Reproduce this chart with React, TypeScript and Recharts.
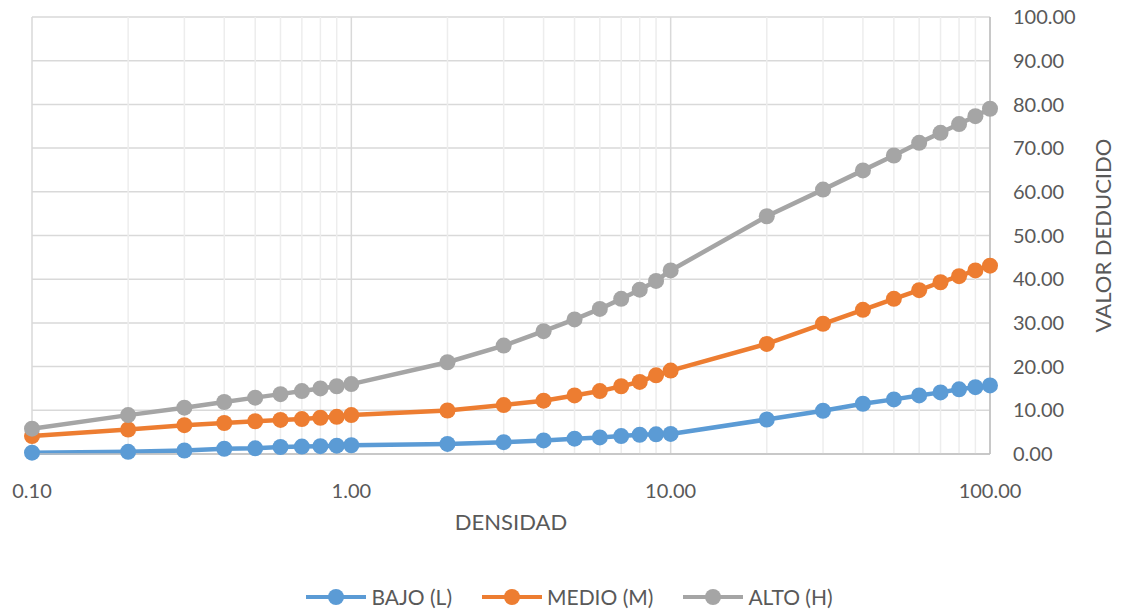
import {
  LineChart,
  Line,
  XAxis,
  YAxis,
  CartesianGrid,
  ReferenceLine,
  Legend,
} from "recharts";

const DENSIDAD = [
  0.1, 0.2, 0.3, 0.4, 0.5, 0.6, 0.7, 0.8, 0.9, 1, 2, 3, 4, 5, 6, 7, 8, 9, 10,
  20, 30, 40, 50, 60, 70, 80, 90, 100,
];

const BAJO = [
  0.3, 0.5, 0.8, 1.2, 1.3, 1.6, 1.7, 1.8, 1.9, 2.0, 2.3, 2.7, 3.1, 3.5, 3.8,
  4.1, 4.4, 4.5, 4.6, 7.9, 9.9, 11.5, 12.5, 13.4, 14.1, 14.8, 15.3, 15.7,
];

const MEDIO = [
  4.1, 5.6, 6.6, 7.1, 7.5, 7.8, 8.0, 8.3, 8.5, 8.9, 9.95, 11.2, 12.2, 13.4,
  14.4, 15.5, 16.5, 18.0, 19.1, 25.2, 29.8, 33.0, 35.5, 37.5, 39.3, 40.7, 42.0,
  43.1,
];

const ALTO = [
  5.8, 8.9, 10.6, 11.9, 12.9, 13.7, 14.4, 15.0, 15.5, 16.0, 21.0, 24.8, 28.1,
  30.8, 33.2, 35.5, 37.6, 39.6, 42.0, 54.4, 60.5, 64.9, 68.3, 71.2, 73.5, 75.5,
  77.3, 79.0,
];

const X_TICKS = [0.1, 1, 10, 100];
const X_MINOR = [
  0.2, 0.3, 0.4, 0.5, 0.6, 0.7, 0.8, 0.9, 2, 3, 4, 5, 6, 7, 8, 9, 20, 30, 40,
  50, 60, 70, 80, 90,
];
const Y_TICKS = [0, 10, 20, 30, 40, 50, 60, 70, 80, 90, 100];

const SERIES = [
  { key: "bajo", name: "BAJO (L)", color: "#5B9BD5" },
  { key: "medio", name: "MEDIO (M)", color: "#ED7D31" },
  { key: "alto", name: "ALTO (H)", color: "#A5A5A5" },
];

const data = DENSIDAD.map((d, i) => ({
  x: d,
  bajo: BAJO[i],
  medio: MEDIO[i],
  alto: ALTO[i],
}));

const FONT = "Lato, 'Open Sans', sans-serif";
const TEXT = "#595959";

// leyenda con línea + círculo como en Excel
const renderLegend = () => (
  <div
    style={{
      display: "flex",
      justifyContent: "center",
      gap: 30,
      paddingRight: 16,
    }}
  >
    {SERIES.map((s) => (
      <div key={s.key} style={{ display: "flex", alignItems: "center" }}>
        <svg width={60} height={20}>
          <line x1={0} y1={10} x2={60} y2={10} stroke={s.color} strokeWidth={4} />
          <circle cx={30} cy={10} r={8} fill={s.color} />
        </svg>
        <span
          style={{
            fontFamily: FONT,
            fontSize: 21,
            color: TEXT,
            marginLeft: 5,
          }}
        >
          {s.name}
        </span>
      </div>
    ))}
  </div>
);

export default function App() {
  return (
    <div style={{ width: 1123, height: 615, background: "#fff" }}>
      <style>{`body{margin:0}`}</style>
      <LineChart
        width={1123}
        height={615}
        data={data}
        margin={{ top: 17, right: 0, left: 32, bottom: 1 }}
      >
        <CartesianGrid stroke="#D9D9D9" strokeWidth={1.5} />
        {X_MINOR.map((v) => (
          <ReferenceLine key={v} x={v} stroke="#EDEDED" strokeWidth={1.5} />
        ))}
        <XAxis
          dataKey="x"
          type="number"
          scale="log"
          domain={[0.1, 100]}
          ticks={X_TICKS}
          height={130}
          tickLine={false}
          axisLine={{ stroke: "#BFBFBF", strokeWidth: 1.5 }}
          tickMargin={24}
          tickFormatter={(v: number) => v.toFixed(2)}
          tick={{ fill: TEXT, fontSize: 20, fontFamily: FONT }}
          label={{
            value: "DENSIDAD",
            position: "insideBottom",
            offset: 54,
            fill: TEXT,
            fontSize: 22,
            fontFamily: FONT,
          }}
        />
        <YAxis
          orientation="right"
          type="number"
          domain={[0, 100]}
          ticks={Y_TICKS}
          width={133}
          tickLine={false}
          axisLine={{ stroke: "#BFBFBF", strokeWidth: 1.5 }}
          tickMargin={17}
          tickFormatter={(v: number) => v.toFixed(2)}
          tick={{ fill: TEXT, fontSize: 20, fontFamily: FONT }}
          label={{
            value: "VALOR DEDUCIDO",
            angle: -90,
            position: "center",
            dx: 47,
            fill: TEXT,
            fontSize: 22,
            fontFamily: FONT,
          }}
        />
        {SERIES.map((s) => (
          <Line
            key={s.key}
            dataKey={s.key}
            name={s.name}
            stroke={s.color}
            strokeWidth={4.5}
            dot={{ r: 8, fill: s.color, stroke: s.color, strokeWidth: 0 }}
            activeDot={false}
            isAnimationActive={false}
          />
        ))}
        <Legend verticalAlign="bottom" height={30} content={renderLegend} />
      </LineChart>
    </div>
  );
}
